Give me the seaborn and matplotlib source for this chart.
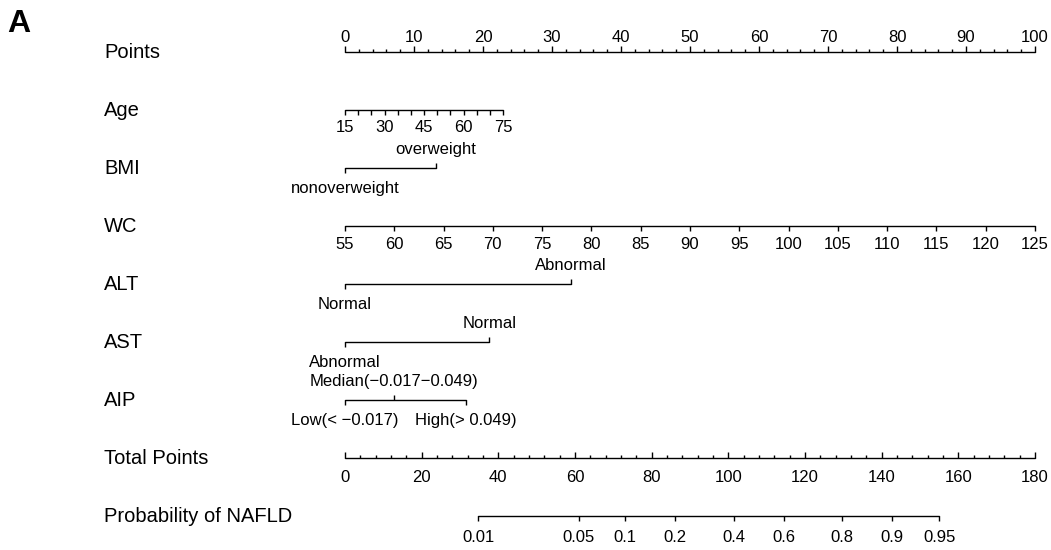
import numpy as np
import pandas as pd
import matplotlib
matplotlib.use("Agg")
import matplotlib.pyplot as plt
import seaborn as sns

# Nomogram data

row_labels = ["Points", "Age", "BMI", "WC", "ALT", "AST", "AIP",
              "Total Points", "Probability of NAFLD"]

age_range = [15, 75]
age_pts = [0, 22.9]
age_ticks = list(range(15, 80, 5))
age_labels = [15, 30, 45, 60, 75]

bmi_levels = ["nonoverweight", "overweight"]
bmi_pts = [0, 13.2]

wc_range = [55, 125]
wc_pts = [0, 100]
wc_ticks = list(range(55, 130, 5))

alt_levels = ["Normal", "Abnormal"]
alt_pts = [0, 32.7]

ast_levels = ["Abnormal", "Normal"]
ast_pts = [0, 20.9]

aip_levels = ["Low(< \u22120.017)", "Median(\u22120.017\u22120.049)", "High(> 0.049)"]
aip_pts = [0, 7.1, 17.5]

total_max = 180
total_ticks = list(range(0, 184, 4))
total_labels = list(range(0, 200, 20))

prob_ticks = ["0.01", "0.05", "0.1", "0.2", "0.4", "0.6", "0.8", "0.9", "0.95"]
prob_total = [34.7, 61.0, 73.0, 86.0, 101.5, 114.4, 129.6, 142.6, 155.0]

# ---------------------------------------------------------------

sns.set_theme(style="white")
plt.rcParams["font.family"] = ["Liberation Sans", "DejaVu Sans"]
plt.rcParams["text.color"] = "black"

fig = plt.figure(figsize=(10.51, 5.5), dpi=100)
ax = fig.add_axes([0, 0, 1, 1])
ax.axis("off")

PX = 1 / 58          # one pixel in row units
PT = 0.72            # one pixel in points (dpi 100)
TS = 12              # tick label size


def tscale(v):
    return np.asarray(v, dtype=float) * 100 / total_max


segs = []


def base(row, x0, x1):
    segs.append({"row": row, "x": x0, "y": row})
    segs.append({"row": row, "x": x1, "y": row})


def ticks(row, xs, length, up=False):
    sgn = -1 if up else 1
    ax.vlines(xs, row, row + sgn * length * PX, color="black", lw=1)


def lab(row, x, txt, above=False, off=18):
    dy = off if above else -off
    ax.annotate(txt, (x, row), xytext=(0, dy * PT), textcoords="offset points",
                ha="center", va="center", fontsize=TS, color="black")


def categorical(row, levels, pts, sides):
    base(row, min(pts), max(pts))
    for lv, p, s in zip(levels, pts, sides):
        ticks(row, [p], 5, up=(s == "above"))
        lab(row, p, lv, above=(s == "above"), off=19 if s == "above" else 20)


# Points
r = 0
base(r, 0, 100)
ticks(r, np.arange(0, 101, 10), 6, up=True)
ticks(r, [v for v in range(0, 101, 2) if v % 10], 3.5, up=True)
for v in range(0, 101, 10):
    lab(r, v, str(v), above=True, off=15)

# Age
r = 1
age_x = np.interp(age_ticks, age_range, age_pts)
base(r, age_x[0], age_x[-1])
ticks(r, age_x, 5)
for v in age_labels:
    lab(r, np.interp(v, age_range, age_pts), str(v), off=17)

# BMI
categorical(2, bmi_levels, bmi_pts, ["below", "above"])

# WC
r = 3
wc_x = np.interp(wc_ticks, wc_range, wc_pts)
base(r, wc_x[0], wc_x[-1])
ticks(r, wc_x, 5)
for v, x in zip(wc_ticks, wc_x):
    lab(r, x, str(v), off=18)

# ALT, AST, AIP
categorical(4, alt_levels, alt_pts, ["below", "above"])
categorical(5, ast_levels, ast_pts, ["below", "above"])
categorical(6, aip_levels, aip_pts, ["below", "above", "below"])

# Total points
r = 7
base(r, 0, tscale(total_max))
ticks(r, tscale([t for t in total_ticks if t % 20]), 3.5, up=True)
ticks(r, tscale(total_labels), 6, up=True)
for v in total_labels:
    lab(r, tscale(v), str(v), off=19)

# Probability
r = 8
px = tscale(prob_total)
base(r, px[0], px[-1])
ticks(r, px, 5)
for t, x in zip(prob_ticks, px):
    lab(r, x, t, off=21)

seg_df = pd.DataFrame(segs)
sns.lineplot(data=seg_df, x="x", y="y", units="row", estimator=None,
             sort=False, color="black", lw=1, legend=False, ax=ax)
ax.set_xlim(-345 / 6.9, (1051 - 345) / 6.9)
ax.set_ylim((550 - 52) / 58, -52 / 58)
ax.axis("off")

for i, name in enumerate(row_labels):
    ax.text((104 - 345) / 6.9, i, name, ha="left", va="center",
            fontsize=14.5, color="black")

fig.text(7 / 1051, 1 - 9 / 550, "A", ha="left", va="top",
         fontsize=23, fontweight="bold", color="black")

fig.savefig("out.png", dpi=100)
